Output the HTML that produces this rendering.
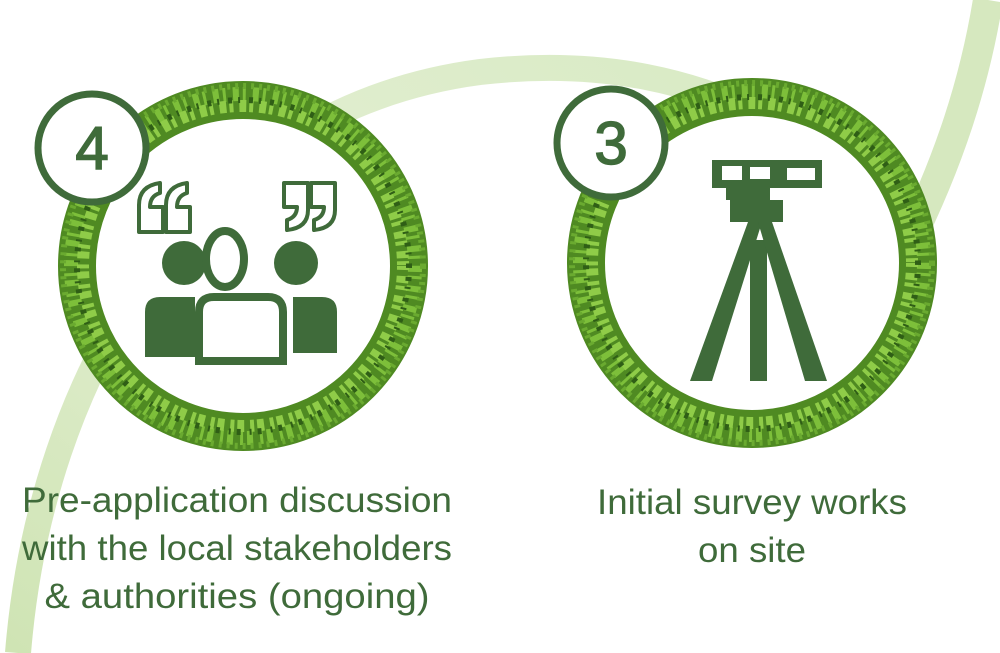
<!DOCTYPE html>
<html><head><meta charset="utf-8"><style>
html,body{margin:0;padding:0;background:#fff;}
svg{display:block;}
text{font-family:"Liberation Sans Narrow","Liberation Sans",sans-serif;fill:#3f6b3a;}
</style></head><body>
<svg width="1000" height="653" viewBox="0 0 1000 653" xmlns="http://www.w3.org/2000/svg">
<defs>
<linearGradient id="g1" x1="0" y1="1" x2="1" y2="0">
<stop offset="0" stop-color="#cfe4b4"/><stop offset="0.5" stop-color="#e3efd2"/><stop offset="1" stop-color="#d8eac4"/>
</linearGradient>
</defs>
<path d="M18 653 C 40 380 190 110 480 72 C 600 58 700 80 790 130" fill="none" stroke="url(#g1)" stroke-width="26"/>
<path d="M905 250 C 950 160 975 80 988 0" fill="none" stroke="#d6e8bf" stroke-width="30"/>

<g>
<circle cx="243" cy="266" r="166" fill="#fff"/>
<circle cx="243" cy="266" r="166" fill="none" stroke="#4f8a22" stroke-width="38"/>
<circle cx="243" cy="266" r="172" fill="none" stroke="#7dbf3a" stroke-width="14" stroke-dasharray="6 4 3 7"/>
<circle cx="243" cy="266" r="160" fill="none" stroke="#8fcc48" stroke-width="12" stroke-dasharray="4 6 7 3"/>
<circle cx="243" cy="266" r="166" fill="none" stroke="#2f5e16" stroke-width="6" stroke-dasharray="2 9 4 6"/>
<circle cx="243" cy="266" r="180" fill="none" stroke="#6aaa30" stroke-width="6" stroke-dasharray="3 5"/>
</g>
<g>
<circle cx="752" cy="263" r="166" fill="#fff"/>
<circle cx="752" cy="263" r="166" fill="none" stroke="#4f8a22" stroke-width="38"/>
<circle cx="752" cy="263" r="172" fill="none" stroke="#7dbf3a" stroke-width="14" stroke-dasharray="6 4 3 7"/>
<circle cx="752" cy="263" r="160" fill="none" stroke="#8fcc48" stroke-width="12" stroke-dasharray="4 6 7 3"/>
<circle cx="752" cy="263" r="166" fill="none" stroke="#2f5e16" stroke-width="6" stroke-dasharray="2 9 4 6"/>
<circle cx="752" cy="263" r="180" fill="none" stroke="#6aaa30" stroke-width="6" stroke-dasharray="3 5"/>
</g>

<circle cx="92" cy="148" r="54" fill="#fff" stroke="#3f6b3a" stroke-width="7"/>
<text x="92" y="169" font-size="60" text-anchor="middle" style="font-family:'Liberation Sans',sans-serif;stroke:#3f6b3a;stroke-width:1.5">4</text>
<circle cx="611" cy="143" r="54" fill="#fff" stroke="#3f6b3a" stroke-width="7"/>
<text x="611" y="164" font-size="60" text-anchor="middle" style="font-family:'Liberation Sans',sans-serif;stroke:#3f6b3a;stroke-width:1.5">3</text>

<g fill="#fff" stroke="#3f6b3a" stroke-width="4" stroke-linejoin="round">
<path d="M139 232 V205 Q139 186 160 183 V193 Q150 196 150 207 H163 V232 Z"/>
<path d="M166 232 V205 Q166 186 187 183 V193 Q177 196 177 207 H190 V232 Z"/>
<path d="M284 183 H308 V210 Q308 228 287 230 V220 Q297 217 297 207 H284 Z"/>
<path d="M311 183 H335 V210 Q335 228 314 230 V220 Q324 217 324 207 H311 Z"/>
</g>
<g fill="#3f6b3a" stroke="#3f6b3a">
<circle cx="184" cy="263" r="22" stroke="none"/>
<circle cx="296" cy="263" r="22" stroke="none"/>
<ellipse cx="225" cy="259" rx="19" ry="28" fill="none" stroke-width="8"/>
<path d="M145 357 V312 Q145 297 160 297 H195 V357 Z" stroke="none"/>
<path d="M293 297 H322 Q337 297 337 312 V353 H293 Z" stroke="none"/>
<path d="M199 361 V312 Q199 297 214 297 H268 Q283 297 283 312 V361 Z" fill="#fff" stroke-width="8"/>
</g>

<g fill="#3f6b3a">
<path d="M712 160 H822 V188 H770 V200 H783 V222 H730 V200 H726 V188 H712 Z"/>
<rect x="722" y="166" width="20" height="14" fill="#fff"/>
<rect x="750" y="167" width="20" height="12" fill="#fff"/>
<rect x="787" y="168" width="28" height="12" fill="#fff"/>
<path d="M748 222 L762 222 L712 381 L690 381 Z"/>
<path d="M750 240 H767 V381 H750 Z"/>
<path d="M758 222 L772 222 L827 381 L805 381 Z"/>
</g>

<text x="237" y="512" font-size="35" text-anchor="middle" textLength="430" lengthAdjust="spacingAndGlyphs">Pre-application discussion</text>
<text x="237" y="560" font-size="35" text-anchor="middle" textLength="430" lengthAdjust="spacingAndGlyphs">with the local stakeholders</text>
<text x="237" y="608" font-size="35" text-anchor="middle" textLength="385" lengthAdjust="spacingAndGlyphs">&amp; authorities (ongoing)</text>
<text x="752" y="514" font-size="35" text-anchor="middle" textLength="310" lengthAdjust="spacingAndGlyphs">Initial survey works</text>
<text x="752" y="562" font-size="35" text-anchor="middle" textLength="108" lengthAdjust="spacingAndGlyphs">on site</text>
</svg>
</body></html>
